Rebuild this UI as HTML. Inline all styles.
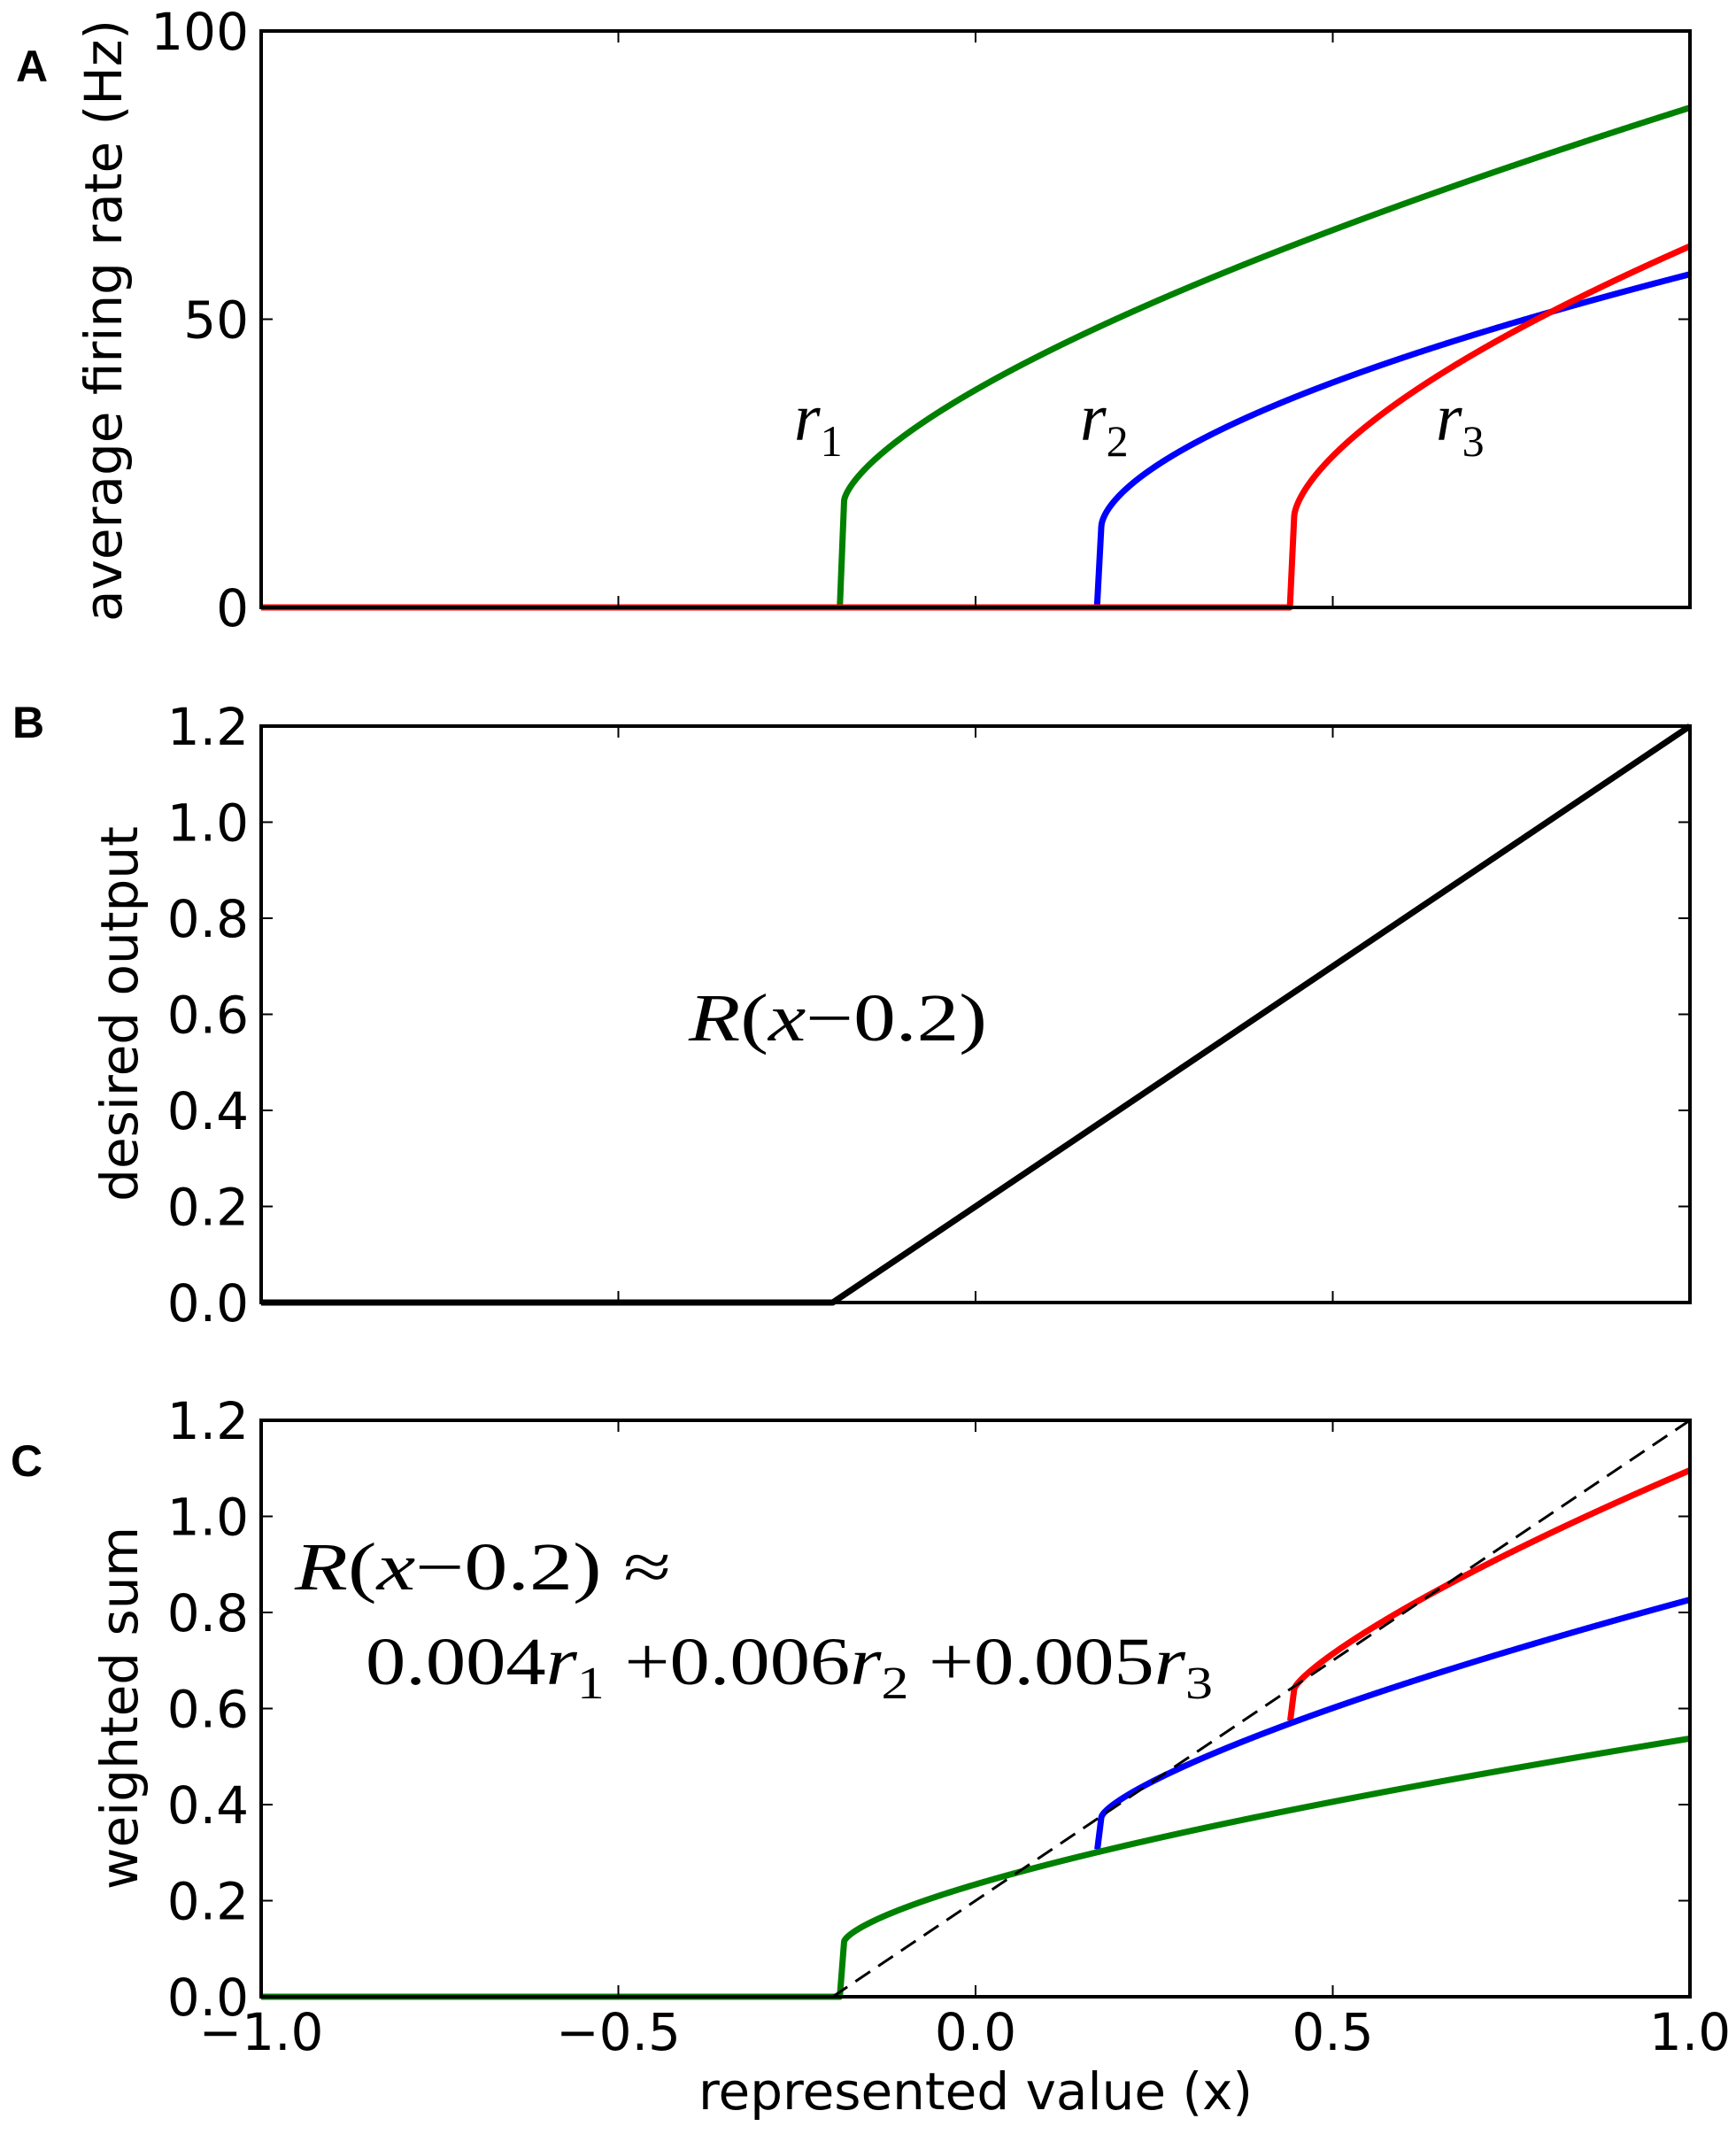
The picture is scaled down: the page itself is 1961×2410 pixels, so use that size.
<!DOCTYPE html>
<html><head><meta charset="utf-8"><style>
html,body{margin:0;padding:0;background:#fff}
svg{display:block}
.t{font-family:"DejaVu Sans","Liberation Sans",sans-serif;font-size:58px;fill:#000}
.m{font-family:"Liberation Serif","DejaVu Serif",serif;font-size:76px;fill:#000}
.l{font-family:"Liberation Sans",sans-serif;font-weight:bold;font-size:50px}
</style></head><body>
<svg id="s" width="1961" height="2410" xmlns="http://www.w3.org/2000/svg"></svg>
<script>
var s=document.getElementById('s'),L=295,R=1909,W=R-L,H=651;
var tops=[35,820,1604];
function X(x){return L+(x+1)/2*W}
var out='';
function rate(x,x0,j,A,p){var d=x-x0;if(d<=0)return 0;if(d<0.006)return j*d/0.006;return j+A*Math.pow(d-0.006,p)}
function r1(x){return rate(x,-0.19,18.5,60.8,0.68)}
function r2(x){return rate(x,0.17,14,49.2,0.6)}
function r3(x){return rate(x,0.44,15.8,68.6,0.645)}
function path(f,top,ymax,col,w,dash,xs){xs=xs===undefined?-1:xs;var p='';var first=true;for(var i=0;i<=4000;i++){var x=-1+2*i/4000;if(x<xs)continue;var y=f(x);p+=(first?'M':'L')+X(x).toFixed(2)+','+(top+H-y/ymax*H).toFixed(2);first=false}
out+='<path d="'+p+'" fill="none" stroke="'+col+'" stroke-width="'+w+'"'+(dash?' stroke-dasharray="'+dash+'"':'')+' stroke-linejoin="round"/>'}
function axes(top,ymax,ticks,labels){
 out+='<rect x="'+L+'" y="'+top+'" width="'+W+'" height="'+H+'" fill="none" stroke="#000" stroke-width="4"/>';
 ticks.forEach(function(v,i){var y=top+H-v/ymax*H;out+='<line x1="'+L+'" x2="'+(L+13)+'" y1="'+y+'" y2="'+y+'" stroke="#000" stroke-width="2"/><line x1="'+R+'" x2="'+(R-13)+'" y1="'+y+'" y2="'+y+'" stroke="#000" stroke-width="2"/>';
 out+='<text class="t" x="'+(L-14)+'" y="'+(y+21)+'" text-anchor="end">'+labels[i]+'</text>'});
 [-1,-0.5,0,0.5,1].forEach(function(v){var x=X(v);out+='<line x1="'+x+'" x2="'+x+'" y1="'+(top+H)+'" y2="'+(top+H-13)+'" stroke="#000" stroke-width="2"/><line x1="'+x+'" x2="'+x+'" y1="'+top+'" y2="'+(top+13)+'" stroke="#000" stroke-width="2"/>'});
}
path(r1,tops[0],100,'#008000',7);path(r2,tops[0],100,'#0000ff',7);path(r3,tops[0],100,'#ff0000',7);
axes(tops[0],100,[0,50,100],['0','50','100']);
var bt=[0,0.2,0.4,0.6,0.8,1.0,1.2],bl=['0.0','0.2','0.4','0.6','0.8','1.0','1.2'];
path(function(x){return x<-0.2?0:x+0.2},tops[1],1.2,'#000',7);
axes(tops[1],1.2,bt,bl);
function g(x){return 0.0062*r1(x)}function b(x){return g(x)+0.005*r2(x)}function rr(x){return b(x)+0.0043*r3(x)}
path(rr,tops[2],1.2,'#ff0000',7,null,0.44);
path(b,tops[2],1.2,'#0000ff',7,null,0.17);
path(g,tops[2],1.2,'#008000',7);
path(function(x){return x<-0.2?0:x+0.2},tops[2],1.2,'#000',3,'20,11',-0.2);
axes(tops[2],1.2,bt,bl);
[-1,-0.5,0,0.5,1].forEach(function(v,i){out+='<text class="t" x="'+X(v)+'" y="'+(tops[2]+H+60)+'" text-anchor="middle">'+['\u22121.0','\u22120.5','0.0','0.5','1.0'][i]+'</text>'});
out+='<text class="t" x="1102" y="2382" text-anchor="middle">represented value (x)</text>';
out+='<text class="t" transform="translate(137,362) rotate(-90)" text-anchor="middle">average firing rate (Hz)</text>';
out+='<text class="t" transform="translate(155,1145) rotate(-90)" text-anchor="middle">desired output</text>';
out+='<text class="t" transform="translate(155,1929) rotate(-90)" text-anchor="middle">weighted sum</text>';
out+='<text class="l" x="18" y="92">A</text><text class="l" x="14" y="833">B</text><text class="l" x="12" y="1667">C</text>';
function sub(x,y,n){out+='<text class="m" x="'+x+'" y="'+y+'" font-style="italic" font-size="68">r<tspan font-style="normal" font-size="50" dy="18">'+n+'</tspan></text>'}
sub(897,497,1);sub(1220,497,2);sub(1622,497,3);
out+='<text class="m" x="778" y="1175" textLength="337" lengthAdjust="spacingAndGlyphs"><tspan font-style="italic">R</tspan>(<tspan font-style="italic">x</tspan>\u22120.2)</text>';
out+='<text class="m" x="333" y="1795" textLength="425" lengthAdjust="spacingAndGlyphs"><tspan font-style="italic">R</tspan>(<tspan font-style="italic">x</tspan>\u22120.2) \u2248</text>';
out+='<text class="m" x="413" y="1902" textLength="957" lengthAdjust="spacingAndGlyphs">0.004<tspan font-style="italic">r</tspan><tspan font-size="52" dy="16">1</tspan><tspan dy="-16"> +0.006</tspan><tspan font-style="italic">r</tspan><tspan font-size="52" dy="16">2</tspan><tspan dy="-16"> +0.005</tspan><tspan font-style="italic">r</tspan><tspan font-size="52" dy="16">3</tspan></text>';
s.innerHTML=out;
</script>
</body></html>
